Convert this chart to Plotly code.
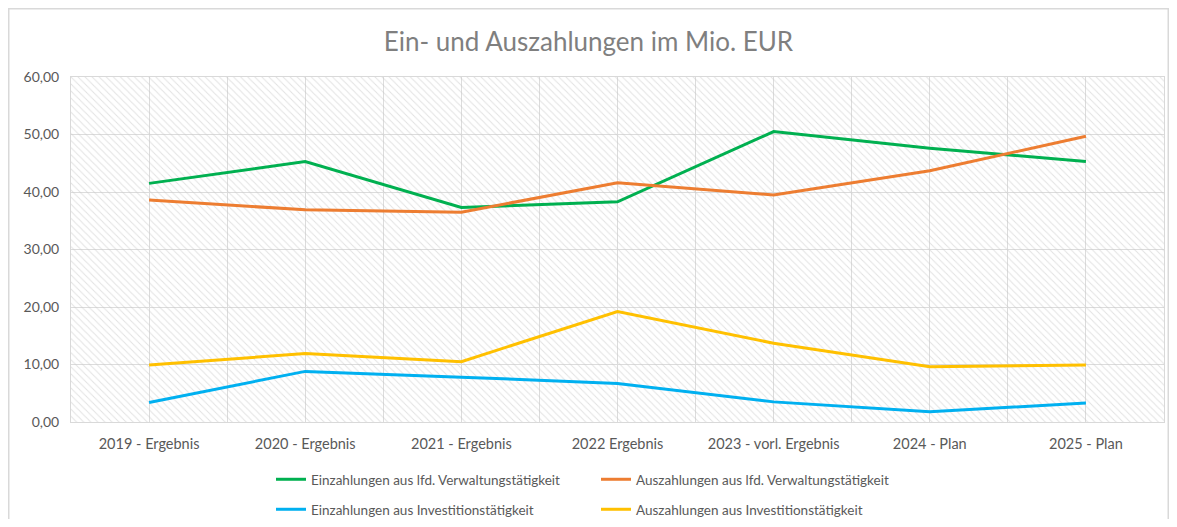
import plotly.graph_objects as go

categories = ["2019 - Ergebnis", "2020 - Ergebnis", "2021 - Ergebnis", "2022 Ergebnis",
              "2023 - vorl. Ergebnis", "2024 - Plan", "2025 - Plan"]
ein_verw = [41.5, 45.3, 37.3, 38.3, 50.5, 47.6, 45.3]
aus_verw = [38.6, 36.9, 36.5, 41.6, 39.5, 43.7, 49.7]
ein_inv = [3.4, 8.8, 7.8, 6.7, 3.5, 1.8, 3.3]
aus_inv = [9.9, 11.9, 10.5, 19.2, 13.7, 9.6, 9.9]
y_ticks = [0, 10, 20, 30, 40, 50, 60]
y_ticklabels = ["0,00", "10,00", "20,00", "30,00", "40,00", "50,00", "60,00"]

FONT = "Lato"
idx = list(range(len(categories)))
x_lo, x_hi = -0.5, len(categories) - 0.5
y_lo, y_hi = y_ticks[0], y_ticks[-1]

W, H = 1161, 511
L, R, T, B = 63, 5, 69, 97
PW, PH = W - L - R, H - T - B

fig = go.Figure()

# hatched plot-area background
fig.add_trace(go.Scatter(
    x=[x_lo, x_hi, x_hi, x_lo, x_lo], y=[y_lo, y_lo, y_hi, y_hi, y_lo],
    mode="lines", line=dict(width=0), fill="toself", fillcolor="rgba(0,0,0,0)",
    fillpattern=dict(shape="\\", fgcolor="#c6c6c6", bgcolor="rgba(0,0,0,0)",
                     size=5, solidity=0.2),
    hoverinfo="skip", showlegend=False))

series = [
    ("Einzahlungen aus lfd. Verwaltungstätigkeit", ein_verw, "#00B050", "legend"),
    ("Auszahlungen aus lfd. Verwaltungstätigkeit", aus_verw, "#ED7D31", "legend"),
    ("Einzahlungen aus Investitionstätigkeit", ein_inv, "#00B0F0", "legend2"),
    ("Auszahlungen aus Investitionstätigkeit", aus_inv, "#FFC000", "legend2"),
]
for name, vals, col, lg in series:
    fig.add_trace(go.Scatter(x=idx, y=vals, mode="lines", name=name,
                             line=dict(color=col, width=3), legend=lg))

# x gridlines at categories and between categories
xt = []
xl = []
for i in idx:
    xt += [i - 0.5, i]
    xl += ["", categories[i]]
xt.append(x_hi)
xl.append("")

fig.update_xaxes(range=[x_lo, x_hi], tickvals=xt, ticktext=xl, showgrid=True,
                 gridcolor="#dcdcdc", gridwidth=1, zeroline=False, ticks="",
                 showline=True, linecolor="#d9d9d9", mirror=True, automargin=False,
                 ticklabelstandoff=9,
                 tickfont=dict(family=FONT, size=14.5, color="#595959"))
fig.update_yaxes(range=[y_lo, y_hi], tickvals=y_ticks, ticktext=y_ticklabels, showgrid=True,
                 gridcolor="#dcdcdc", gridwidth=1, zeroline=False, ticks="",
                 showline=True, linecolor="#d9d9d9", mirror=True, automargin=False,
                 ticklabelstandoff=8,
                 tickfont=dict(family=FONT, size=14, color="#595959"))

legend_common = dict(orientation="h", xanchor="left", yanchor="top", entrywidth=280,
                     entrywidthmode="pixels", bgcolor="rgba(0,0,0,0)",
                     font=dict(family=FONT, size=13.5, color="#595959"))

fig.update_layout(
    width=W, height=H,
    margin=dict(l=L, r=R, t=T, b=B, autoexpand=False),
    paper_bgcolor="white", plot_bgcolor="white",
    title=dict(text="Ein- und Auszahlungen im Mio. EUR", x=0.5, xref="container",
               xanchor="center", y=1 - 34 / H, yanchor="middle", automargin=False,
               font=dict(family=FONT, size=26, color="#7f7f7f")),
    legend=dict(x=(263 - L) / PW, y=-42 / PH, **legend_common),
    legend2=dict(x=(263 - L) / PW, y=-72 / PH, **legend_common),
    shapes=[dict(type="rect", xref="paper", yref="paper",
                 x0=(0.75 - L) / PW, x1=(W - 0.75 - L) / PW,
                 y0=(-(B + 30)) / PH, y1=(PH + T - 0.75) / PH,
                 line=dict(color="#d9d9d9", width=1.5), layer="below")],
)

fig.write_html("out.html")
